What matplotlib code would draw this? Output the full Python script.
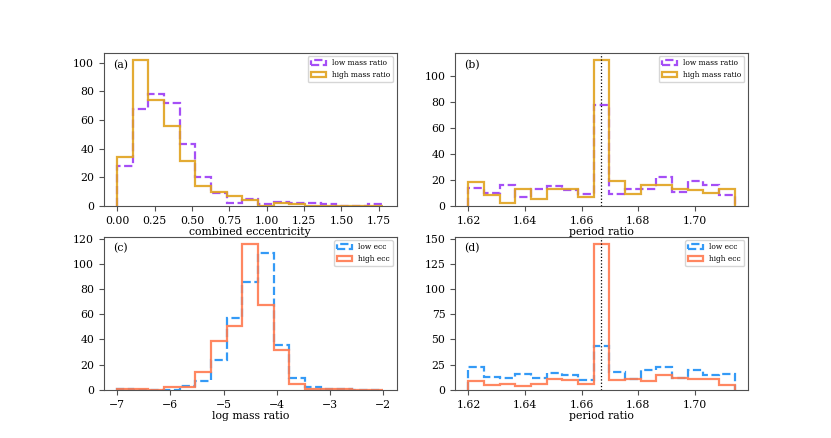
import numpy as np
import matplotlib; matplotlib.use('Agg')
import matplotlib.pyplot as plt

plt.rcParams.update({
    'font.family': 'serif', 'font.serif': ['DejaVu Serif'],
    'font.size': 7.8, 'xtick.labelsize': 7.8, 'ytick.labelsize': 7.8,
    'axes.labelsize': 7.8, 'legend.fontsize': 5.4,
    'axes.edgecolor': '#505050', 'xtick.color': '#505050', 'ytick.color': '#505050',
    'xtick.labelcolor': 'black', 'ytick.labelcolor': 'black',
})

# (a) combined eccentricity, split by mass ratio
ecc_edges = np.linspace(0.0, 1.78, 18)
ecc_low_q = [28, 68, 78, 72, 43, 20, 9, 2, 5, 1, 3, 2, 2, 1, 0, 0, 1]
ecc_high_q = [34, 102, 74, 56, 31, 14, 10, 7, 4, 0, 2, 1, 0, 0, 0, 0, 0]

# (b) period ratio, split by mass ratio
pr_edges = np.linspace(1.62, 1.714, 18)
pr_low_q = [14, 10, 16, 7, 13, 15, 12, 9, 77, 9, 13, 13, 22, 11, 19, 16, 8]
pr_high_q = [18, 8, 2, 13, 5, 13, 13, 7, 112, 19, 9, 16, 16, 13, 12, 10, 13]

# (c) log mass ratio, split by eccentricity
lq_edges = np.linspace(-7.0, -2.0, 18)
lq_low_e = [1, 0, 0, 0, 3, 7, 24, 57, 86, 109, 36, 9, 2, 1, 1, 0, 0]
lq_high_e = [1, 1, 0, 2, 2, 14, 39, 51, 116, 67, 32, 5, 1, 1, 1, 0, 0]

# (d) period ratio, split by eccentricity
pr_low_e = [23, 13, 12, 16, 12, 17, 15, 10, 44, 18, 11, 20, 23, 12, 20, 15, 16]
pr_high_e = [9, 5, 6, 4, 6, 11, 10, 6, 145, 10, 11, 9, 15, 12, 11, 11, 5]

res = 5 / 3

panels = [
    ('(a)', ecc_edges, ecc_low_q, ecc_high_q, 'combined eccentricity', 'mass ratio', False),
    ('(b)', pr_edges, pr_low_q, pr_high_q, 'period ratio', 'mass ratio', True),
    ('(c)', lq_edges, lq_low_e, lq_high_e, 'log mass ratio', 'ecc', False),
    ('(d)', pr_edges, pr_low_e, pr_high_e, 'period ratio', 'ecc', True),
]
colors = {'mass ratio': ('#9b3cf5', '#e0a21e'), 'ecc': ('#1e8ff5', '#ff7a50')}

fig, axes = plt.subplots(2, 2, figsize=(8.31, 4.38), dpi=100)
for ax, (tag, edges, low, high, xlab, split, vline) in zip(axes.flat, panels):
    c_low, c_high = colors[split]
    centers = 0.5 * (edges[:-1] + edges[1:])
    ax.hist(centers, bins=edges, weights=low, histtype='step', ls='--', lw=1.6,
            color=c_low, alpha=0.9, label='low ' + split)
    ax.hist(centers, bins=edges, weights=high, histtype='step', lw=1.6,
            color=c_high, alpha=0.9, label='high ' + split)
    if vline:
        ax.axvline(res, color='black', ls=':', lw=0.9)
    ax.text(0.03, 0.955, tag, transform=ax.transAxes, va='top', ha='left')
    ax.set_xlabel(xlab, labelpad=1)
    ax.legend(loc='upper right')

plt.savefig('out.png', dpi=100)
